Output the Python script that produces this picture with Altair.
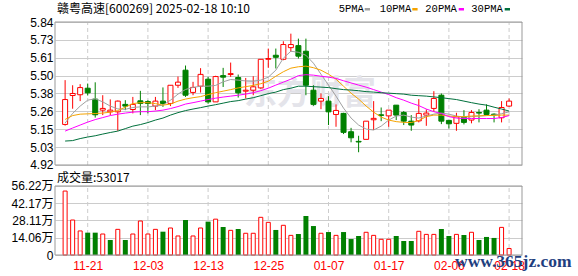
import altair as alt
import pandas as pd
import numpy as np

# ---------------- data ----------------
idx = list(range(60))
opens = [5.181, 5.367, 5.372, 5.414, 5.344, 5.273, 5.262, 5.262, 5.310, 5.277,
         5.333, 5.328, 5.299, 5.331, 5.316, 5.433, 5.530, 5.387, 5.427, 5.472,
         5.326, 5.495, 5.502, 5.483, 5.395, 5.401, 5.416, 5.600, 5.626, 5.600,
         5.675, 5.688, 5.652, 5.401, 5.331, 5.331, 5.245, 5.252, 5.134, 5.072,
         5.085, 5.211, 5.243, 5.236, 5.305, 5.258, 5.202, 5.204, 5.241, 5.284,
         5.369, 5.207, 5.188, 5.226, 5.209, 5.258, 5.273, 5.247, 5.224, 5.299]
highs = [5.466, 5.433, 5.440, 5.444, 5.452, 5.369, 5.342, 5.335, 5.337, 5.358,
         5.397, 5.337, 5.358, 5.419, 5.433, 5.489, 5.560, 5.455, 5.543, 5.487,
         5.494, 5.545, 5.579, 5.502, 5.480, 5.491, 5.600, 5.669, 5.669, 5.716,
         5.765, 5.733, 5.733, 5.433, 5.380, 5.363, 5.310, 5.256, 5.159, 5.108,
         5.202, 5.331, 5.290, 5.273, 5.305, 5.267, 5.241, 5.344, 5.278, 5.395,
         5.380, 5.207, 5.256, 5.273, 5.273, 5.279, 5.310, 5.252, 5.331, 5.348]
lows = [5.173, 5.282, 5.331, 5.367, 5.225, 5.241, 5.241, 5.140, 5.273, 5.252,
        5.241, 5.252, 5.273, 5.294, 5.299, 5.416, 5.358, 5.369, 5.386, 5.314,
        5.326, 5.422, 5.487, 5.354, 5.348, 5.369, 5.410, 5.545, 5.541, 5.594,
        5.647, 5.605, 5.369, 5.301, 5.279, 5.177, 5.166, 5.119, 5.066, 5.002,
        5.085, 5.145, 5.202, 5.166, 5.209, 5.177, 5.140, 5.194, 5.172, 5.262,
        5.183, 5.155, 5.140, 5.181, 5.188, 5.194, 5.241, 5.194, 5.194, 5.294]
closes = [5.341, 5.380, 5.418, 5.384, 5.243, 5.284, 5.273, 5.331, 5.299, 5.310,
          5.316, 5.316, 5.331, 5.316, 5.433, 5.453, 5.369, 5.419, 5.503, 5.326,
          5.489, 5.485, 5.508, 5.384, 5.401, 5.423, 5.600, 5.605, 5.613, 5.695,
          5.695, 5.620, 5.433, 5.310, 5.348, 5.262, 5.271, 5.130, 5.095, 5.068,
          5.202, 5.220, 5.239, 5.273, 5.241, 5.202, 5.177, 5.252, 5.254, 5.348,
          5.202, 5.185, 5.230, 5.194, 5.258, 5.254, 5.245, 5.243, 5.290, 5.331]
ma5 = [5.190, 5.252, 5.299, 5.337, 5.346, 5.326, 5.299, 5.281, 5.278, 5.290,
       5.294, 5.294, 5.299, 5.305, 5.337, 5.376, 5.406, 5.419, 5.427, 5.427,
       5.432, 5.455, 5.470, 5.466, 5.461, 5.459, 5.466, 5.485, 5.530, 5.607,
       5.652, 5.645, 5.626, 5.575, 5.504, 5.434, 5.363, 5.286, 5.222, 5.177,
       5.151, 5.145, 5.170, 5.209, 5.235, 5.241, 5.228, 5.222, 5.235, 5.247,
       5.254, 5.247, 5.235, 5.228, 5.231, 5.235, 5.238, 5.241, 5.250, 5.262]
ma10 = [5.213, 5.238, 5.247, 5.249, 5.251, 5.254, 5.260, 5.270, 5.292, 5.315,
        5.321, 5.321, 5.315, 5.305, 5.312, 5.331, 5.344, 5.353, 5.360, 5.373,
        5.385, 5.395, 5.405, 5.416, 5.424, 5.432, 5.443, 5.459, 5.491, 5.520,
        5.543, 5.552, 5.556, 5.546, 5.530, 5.504, 5.472, 5.427, 5.382, 5.344,
        5.299, 5.260, 5.228, 5.209, 5.199, 5.194, 5.193, 5.206, 5.231, 5.241,
        5.241, 5.235, 5.231, 5.231, 5.235, 5.236, 5.238, 5.239, 5.241, 5.241]
ma20 = [5.138, 5.158, 5.177, 5.196, 5.212, 5.225, 5.238, 5.247, 5.254, 5.260,
        5.263, 5.263, 5.267, 5.273, 5.283, 5.296, 5.312, 5.321, 5.331, 5.341,
        5.350, 5.357, 5.363, 5.369, 5.376, 5.385, 5.398, 5.414, 5.434, 5.453,
        5.472, 5.495, 5.501, 5.498, 5.491, 5.485, 5.477, 5.462, 5.448, 5.434,
        5.421, 5.405, 5.389, 5.373, 5.353, 5.337, 5.318, 5.302, 5.280, 5.263,
        5.251, 5.231, 5.222, 5.219, 5.219, 5.219, 5.219, 5.219, 5.225, 5.238]
ma30 = [5.074, 5.077, 5.090, 5.100, 5.108, 5.119, 5.129, 5.138, 5.154, 5.170,
        5.180, 5.193, 5.209, 5.222, 5.241, 5.257, 5.270, 5.280, 5.289, 5.299,
        5.308, 5.318, 5.328, 5.334, 5.344, 5.353, 5.366, 5.379, 5.389, 5.405,
        5.414, 5.427, 5.427, 5.424, 5.421, 5.418, 5.411, 5.405, 5.402, 5.398,
        5.392, 5.389, 5.385, 5.382, 5.379, 5.376, 5.369, 5.366, 5.363, 5.358,
        5.353, 5.347, 5.341, 5.331, 5.321, 5.312, 5.305, 5.292, 5.280, 5.267]
# volume in 万 (10k shares)
volumes = [52.1, 28.5, 19.6, 18.2, 18.2, 17.1, 12.2, 20.9, 12.2, 17.1,
           27.7, 17.1, 20.9, 19.0, 22.0, 15.5, 28.5, 15.5, 22.0, 27.2,
           29.2, 22.8, 20.1, 21.2, 17.7, 17.7, 30.7, 26.6, 20.4, 24.2,
           16.0, 17.1, 31.8, 23.6, 17.7, 18.7, 16.0, 18.7, 13.0, 15.5,
           18.5, 16.0, 12.8, 12.8, 15.5, 11.4, 11.4, 19.3, 16.8, 16.8,
           21.2, 15.5, 16.8, 16.3, 18.5, 12.2, 14.7, 13.9, 22.5, 5.3]
vol_up = [1, 1, 1, 0, 0, 1, 0, 1, 0, 1,
          1, 1, 1, 0, 1, 1, 0, 1, 1, 0,
          1, 0, 1, 0, 1, 1, 1, 1, 0, 1,
          1, 0, 0, 0, 1, 0, 1, 0, 0, 0,
          1, 1, 1, 1, 0, 0, 0, 1, 1, 1,
          0, 0, 1, 0, 1, 0, 0, 0, 1, 1]
date_tick_idx = [3, 11, 19, 27, 35, 43, 51, 59]
date_labels = ["11-21", "12-03", "12-13", "12-25", "01-07", "01-17", "02-06", "02-18"]
price_ticks = [4.92, 5.035, 5.15, 5.265, 5.38, 5.495, 5.61, 5.725, 5.84]
price_labels = ["4.92", "5.03", "5.15", "5.26", "5.38", "5.50", "5.61", "5.73", "5.84"]
vol_ticks = [0, 14.055, 28.11, 42.165, 56.22]
vol_labels = ["0", "14.06万", "28.11万", "42.17万", "56.22万"]
ma_names = ["5PMA", "10PMA", "20PMA", "30PMA"]
ma_colors = ["#a0a0a0", "#f5a300", "#ff00ff", "#00703c"]
title_text = "赣粤高速[600269] 2025-02-18 10:10"
vol_title = "成交量:53017"

# ---------------- tables ----------------
RED, GREEN = "#ff0000", "#008000"
candles = pd.DataFrame({"i": idx, "o": opens, "h": highs, "l": lows, "c": closes})
candles["dir"] = np.where(candles["c"] >= candles["o"], "up", "down")
ma_df = pd.concat([
    pd.DataFrame({"i": idx, "v": vals, "ma": name})
    for name, vals in zip(ma_names, [ma5, ma10, ma20, ma30])
])
vol_df = pd.DataFrame({"i": idx, "v": volumes,
                       "dir": ["up" if u else "down" for u in vol_up]})
ticks_df = pd.DataFrame({"i": date_tick_idx})
dummy = pd.DataFrame({"k": [0]})

W, H = 467, 233
FONT = "Liberation Sans, Noto Sans CJK SC"

xs = alt.Scale(domain=[-0.68, 60.05], nice=False, zero=False)
ys_p = alt.Scale(domain=[4.3409, 5.84], nice=False, zero=False)
ys_v = alt.Scale(domain=[0, 189.84], nice=False, zero=False)

x_lab = "[" + ",".join("'%s'" % s for s in date_labels) + "][round((datum.value-3)/8)]"
xaxis = alt.Axis(values=date_tick_idx, labelExpr=x_lab, grid=False, ticks=False,
                 tickSize=0, domain=False, labelColor=RED, labelFontSize=12,
                 labelFont=FONT, labelPadding=5, title=None)
p_lab = "[" + ",".join("'%s'" % s for s in price_labels) + "][round((datum.value-4.92)/0.115)]"
paxis = alt.Axis(values=price_ticks, labelExpr=p_lab, grid=True, gridColor="#cccccc",
                 gridWidth=1, ticks=False, tickSize=0, domain=False, labelPadding=2,
                 labelFontSize=12, labelFont=FONT, labelColor="#000000", title=None,
                 orient="left")
v_lab = "[" + ",".join("'%s'" % s for s in vol_labels) + "][round(datum.value/14.055)]"
vaxis = alt.Axis(values=vol_ticks, labelExpr=v_lab, grid=True, gridColor="#cccccc",
                 gridWidth=1, ticks=False, tickSize=0, domain=False, labelPadding=2,
                 labelFontSize=12, labelFont=FONT, labelColor="#000000", title=None,
                 orient="left")


def X(field="i"):
    return alt.X(field + ":Q", scale=xs, axis=xaxis)


# ---------------- price panel ----------------
watermark = alt.Chart(dummy).mark_text(
    text="东方财富", font="Noto Sans CJK SC", fontSize=33, fontWeight="bold",
    color="#e4e4ea", align="center", baseline="middle"
).encode(x=alt.value(255), y=alt.value(72))

vgrid_p = alt.Chart(ticks_df).mark_rule(color="#cccccc", strokeDash=[4, 3], strokeWidth=1).encode(
    x=X(), y=alt.YDatum(4.92, scale=ys_p, axis=paxis), y2=alt.Y2Datum(5.84))

up_c = candles[candles["dir"] == "up"]
dn_c = candles[candles["dir"] == "down"]

wick_up = alt.Chart(up_c).mark_rule(strokeWidth=1, color=RED).encode(
    x=X(), y=alt.Y("l:Q", scale=ys_p, axis=paxis), y2="h:Q")
wick_dn = alt.Chart(dn_c).mark_rule(strokeWidth=1, color=GREEN).encode(
    x=X(), y=alt.Y("l:Q", scale=ys_p, axis=paxis), y2="h:Q")

body_up = alt.Chart(up_c).mark_bar(
    size=5, fill="#ffffff", stroke=RED, strokeWidth=1).encode(
    x=X(), y=alt.Y("o:Q", scale=ys_p, axis=paxis), y2="c:Q")
body_dn = alt.Chart(dn_c).mark_bar(
    size=5, fill=GREEN, stroke=GREEN, strokeWidth=1).encode(
    x=X(), y=alt.Y("o:Q", scale=ys_p, axis=paxis), y2="c:Q")

ma_lines = alt.Chart(ma_df).mark_line(strokeWidth=1).encode(
    x=X(), y=alt.Y("v:Q", scale=ys_p, axis=paxis),
    color=alt.Color("ma:N", scale=alt.Scale(domain=ma_names, range=ma_colors), legend=None),
    order="i:Q")

frame_p = alt.Chart(dummy).mark_rect(fillOpacity=0, stroke="#999999", strokeWidth=1).encode(
    x=alt.value(0), x2=alt.value(W),
    y=alt.YDatum(5.84, scale=ys_p, axis=paxis), y2=alt.Y2Datum(4.92))

title = alt.Chart(dummy).mark_text(
    text=title_text, font="Noto Sans CJK SC", fontSize=12, color="#000000",
    align="left", baseline="middle").encode(x=alt.value(2), y=alt.value(-13.5))

legend_layers = []
legend_text_x = [283.7, 324.7, 370.3, 416.3]
legend_dash_x = [309.7, 357.3, 403.7, 449.7]
for name, col, tx, dx in zip(ma_names, ma_colors, legend_text_x, legend_dash_x):
    legend_layers.append(alt.Chart(dummy).mark_text(
        text=name, font="Liberation Mono", fontSize=10.5, color="#000000",
        align="left", baseline="middle").encode(x=alt.value(tx), y=alt.value(-13)))
    legend_layers.append(alt.Chart(dummy).mark_rect(fill=col).encode(
        x=alt.value(dx), x2=alt.value(dx + 5.3), y=alt.value(-14), y2=alt.value(-11.5)))

price_group = alt.layer(watermark, vgrid_p, wick_up, wick_dn, body_up, body_dn, ma_lines,
                        frame_p, title, *legend_layers)

# ---------------- volume panel ----------------
vgrid_v = alt.Chart(ticks_df).mark_rule(color="#cccccc", strokeDash=[4, 3], strokeWidth=1).encode(
    x=X(), y=alt.YDatum(0, scale=ys_v, axis=vaxis), y2=alt.Y2Datum(56.22))

vol_up_bars = alt.Chart(vol_df[vol_df["dir"] == "up"]).mark_bar(
    size=4, fill="#ffffff", stroke=RED, strokeWidth=1).encode(
    x=X(), y=alt.Y("v:Q", scale=ys_v, axis=vaxis))
vol_dn_bars = alt.Chart(vol_df[vol_df["dir"] == "down"]).mark_bar(
    size=5, fill=GREEN).encode(
    x=X(), y=alt.Y("v:Q", scale=ys_v, axis=vaxis))

frame_v = alt.Chart(dummy).mark_rect(fillOpacity=0, stroke="#999999", strokeWidth=1).encode(
    x=alt.value(0), x2=alt.value(W),
    y=alt.YDatum(56.22, scale=ys_v, axis=vaxis), y2=alt.Y2Datum(0))

vol_text = alt.Chart(dummy).mark_text(
    text=vol_title, font="Noto Sans CJK SC", fontSize=12, color="#000000",
    align="left", baseline="middle").encode(x=alt.value(2), y=alt.value(155.5))

site = alt.Chart(dummy).mark_text(
    text="www.365jz.com", font="Liberation Serif", fontSize=17.5, fontWeight="bold",
    color="#1f3f7f", align="left", baseline="alphabetic").encode(
    x=alt.value(400), y=alt.value(245))

vol_group = alt.layer(vgrid_v, vol_up_bars, vol_dn_bars, frame_v, vol_text, site)

chart = alt.layer(price_group, vol_group).resolve_scale(
    y="independent").properties(
    width=W, height=H,
    padding={"left": 55, "top": 22, "right": 56, "bottom": 21},
    autosize=alt.AutoSizeParams(type="none"),
    background="#ffffff",
).configure_view(strokeWidth=0)

chart.save("out.html", embed_options={"renderer": "svg", "actions": False})
